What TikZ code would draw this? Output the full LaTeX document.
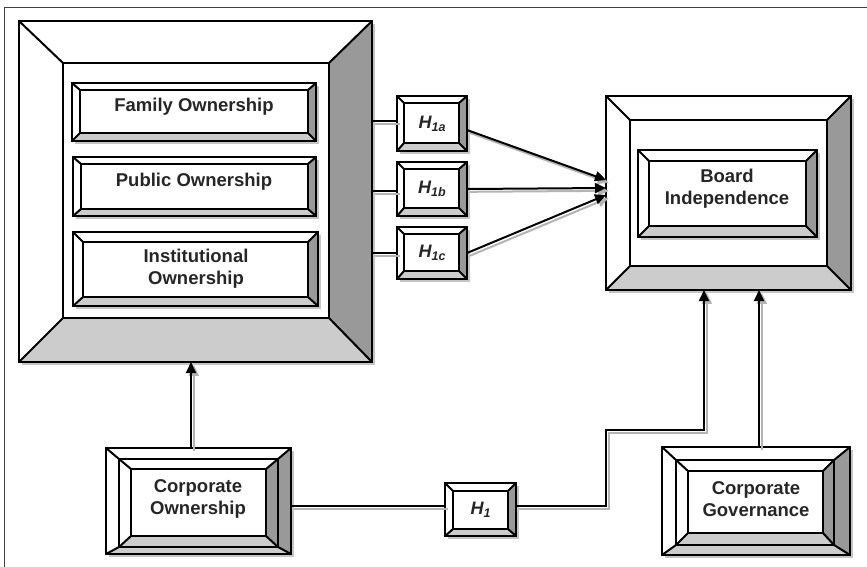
\documentclass[tikz,border=0pt]{standalone}
\usepackage{fontspec}
\setmainfont{Liberation Sans}
\usetikzlibrary{arrows.meta,fit,calc}
\definecolor{darkf}{HTML}{999999}
\definecolor{lightf}{HTML}{CCCCCC}
\definecolor{shadowc}{HTML}{C4C4C4}
\definecolor{lshad}{HTML}{B4B4B4}
\definecolor{txt}{HTML}{262626}
\tikzset{
  boxline/.style={draw=black,line width=2pt,line join=miter},
  lbl/.style={font=\fontsize{18.5}{22}\selectfont\bfseries,text=txt,align=center,inner sep=0},
  hlbl/.style={font=\fontsize{18}{20}\selectfont\bfseries\itshape,text=txt,inner sep=0},
  conn/.style={draw=black,line width=2pt},
  shad/.style={draw=lshad,line width=2pt,transform canvas={xshift=2.8pt,yshift=-2.8pt}},
  tip/.style={-{Triangle[length=11pt,width=10pt]}},
  ghost/.style={inner sep=0,outer sep=0,draw=none}
}
% #1 name, #2..#5 outer x1 y1 x2 y2, #6..#9 inner x1 y1 x2 y2
\newcommand\bevface[9]{%
  \fill[white] (#2,#3) rectangle (#4,#5);
  \fill[darkf] (#4,#3) -- (#8,#7) -- (#8,#9) -- (#4,#5) -- cycle;
  \fill[lightf] (#2,#5) -- (#6,#9) -- (#8,#9) -- (#4,#5) -- cycle;
  \draw[boxline] (#2,#3) rectangle (#4,#5);
  \draw[boxline] (#6,#7) rectangle (#8,#9);
  \draw[boxline] (#2,#3) -- (#6,#7) (#4,#3) -- (#8,#7) (#2,#5) -- (#6,#9) (#4,#5) -- (#8,#9);
  \coordinate (#1-nw) at (#2,#3);
  \coordinate (#1-se) at (#4,#5);
  \node[ghost,fit=(#1-nw)(#1-se)] (#1) {};
}
\newcommand\bevs[9]{%
  \fill[shadowc] (#2+3,#3+3) rectangle (#4+3,#5+3);
  \bevface{#1}{#2}{#3}{#4}{#5}{#6}{#7}{#8}{#9}%
}
\newcommand\hsub[1]{\raisebox{-3pt}{\fontsize{12.5}{12.5}\selectfont #1}}
\begin{document}
\begin{tikzpicture}[x=1pt,y=-1pt]
\useasboundingbox (0,0) rectangle (867,566);
\fill[white] (0,0) rectangle (867,566);
% outer page frame
\draw[line width=1pt,black!75] (4,570) -- (4,7) -- (870,7);

% big ownership box
\bevs{big}{19}{21}{372}{362}{63}{63}{329}{318}
\bevs{fam}{72}{83}{316}{141}{80}{90}{308}{133}
\bevs{pub}{73}{157}{316}{216}{81}{164}{308}{209}
\bevs{inst}{73}{232}{318}{306}{83}{242}{308}{297}
\node[lbl] at (194,107) {Family Ownership};
\node[lbl] at (194,182) {Public Ownership};
\node[lbl] at (196,269) {Institutional\\Ownership};

% board box
\bevs{board}{606}{96}{851}{290}{630}{120}{827}{266}
\bevs{bi}{638}{150}{817}{237}{649}{161}{806}{226}
\node[lbl] at (727,189) {Board\\Independence};

% hypothesis boxes
\bevs{h1a}{397}{96}{467}{151}{404}{103}{459}{143}
\bevs{h1b}{397}{162}{467}{216}{404}{169}{459}{208}
\bevs{h1c}{397}{227}{467}{279}{404}{234}{459}{271}
\bevs{h1}{445}{483}{516}{536}{453}{491}{508}{529}
\node[hlbl] at (h1a) {H\hsub{1a}};
\node[hlbl] at (h1b) {H\hsub{1b}};
\node[hlbl] at (h1c) {H\hsub{1c}};
\node[hlbl] at (h1) {H\hsub{1}};

% corporate ownership
\bevs{co}{106}{448}{291}{554}{119}{459}{278}{547}
\bevface{coi}{119}{459}{278}{547}{131}{469}{266}{536}
\node[lbl] at (198,499) {Corporate\\Ownership};

% corporate governance
\bevs{cg}{662}{447}{850}{555}{676}{460}{834}{545}
\bevface{cgi}{676}{460}{834}{545}{688}{471}{823}{533}
\node[lbl] at (756,499) {Corporate\\Governance};

% connectors big -> H boxes
\foreach \h/\dy in {h1a/2.5,h1b/-2,h1c/0}{
  \draw[shad] ([yshift=\dy pt]\h.west -| big.east) -- ([yshift=\dy pt]\h.west);
  \draw[conn] ([yshift=\dy pt]\h.west -| big.east) -- ([yshift=\dy pt]\h.west);
}
% H -> board arrows
\coordinate (ba) at ([yshift=13pt]board.west);
\coordinate (bb) at ([yshift=5pt]board.west);
\coordinate (bc) at ([yshift=-2pt]board.west);
\draw[shad,tip] ([yshift=-6.5pt]h1a.east) -- (ba);
\draw[conn,tip] ([yshift=-6.5pt]h1a.east) -- (ba);
\draw[shad,tip] (h1b.east) -- (bb);
\draw[conn,tip] (h1b.east) -- (bb);
\draw[shad,tip] (h1c.east) -- (bc);
\draw[conn,tip] (h1c.east) -- (bc);

% CO -> big
\coordinate (cotop) at ([xshift=-7.5pt]co.north);
\draw[shad,tip] (cotop) -- (cotop |- big.south);
\draw[conn,tip] (cotop) -- (cotop |- big.south);

% CO -> H1 -> board
\coordinate (l1) at ([yshift=3.5pt]h1.west);
\coordinate (t1) at (606,430);
\coordinate (b1) at ([xshift=-24.5pt]board.south);
\draw[shad] (l1 -| co.east) -- (l1);
\draw[conn] (l1 -| co.east) -- (l1);
\draw[shad,tip] (l1 -| h1.east) -| (t1) -| (b1);
\draw[conn,tip] (l1 -| h1.east) -| (t1) -| (b1);

% CG -> board
\coordinate (cgtop) at ([xshift=3pt]cg.north);
\draw[shad,tip] (cgtop) -- (cgtop |- board.south);
\draw[conn,tip] (cgtop) -- (cgtop |- board.south);
\end{tikzpicture}
\end{document}
